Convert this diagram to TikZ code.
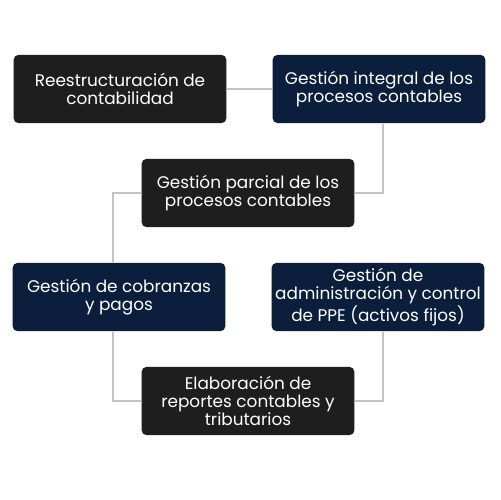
\documentclass[tikz,border=0pt]{standalone}
\usepackage{fontspec}
\setmainfont{Poppins}
\usepackage{xcolor}
\usepackage{tikz}
\usetikzlibrary{positioning,calc}
\definecolor{boxdark}{RGB}{30,30,30}
\definecolor{boxnavy}{RGB}{11,30,60}
\definecolor{linkgray}{RGB}{195,195,195}

\begin{document}
\begin{tikzpicture}[
  x=0.02cm, y=-0.02cm,
  font=\fontsize{9.6pt}{10.3pt}\selectfont,
  dk/.style={fill=boxdark, text=white, rounded corners=3pt,
             minimum width=4.26cm, minimum height=1.37cm, align=center, inner sep=1pt},
  nv/.style={fill=boxnavy, text=white, rounded corners=3pt,
             minimum width=4.26cm, minimum height=1.37cm, align=center, inner sep=1pt},
  link/.style={draw=linkgray, line width=0.8pt}
]
\fill[white] (0,0) rectangle (500,500);

% Row 1
\node[dk] (reest) at (120,89) {Reestructuración de\\contabilidad};
\node[nv] (integral) at (379,89) {Gestión integral de los\\procesos contables};

% Row 2
\node[dk] (parcial) at (248,193) {Gestión parcial de los\\procesos contables};

% Row 3
\node[nv] (cobranzas) at (119,297) {Gestión de cobranzas\\y pagos};
\node[nv] (ppe) at (378,297) {Gestión de\\administración y control\\de PPE (activos fijos)};

% Row 4
\node[dk] (reportes) at (248,401) {Elaboración de\\reportes contables y\\tributarios};

% Connectors
\draw[link] (reest.east) -- (integral.west);
\draw[link] ([xshift=0.08cm]integral.south) |- (parcial.east);
\draw[link] (parcial.west) -| ([xshift=-0.12cm]cobranzas.north);
\draw[link] ([xshift=-0.12cm]cobranzas.south) |- (reportes.west);
\draw[link] (reportes.east) -| ([xshift=0.1cm]ppe.south);
\end{tikzpicture}
\end{document}
